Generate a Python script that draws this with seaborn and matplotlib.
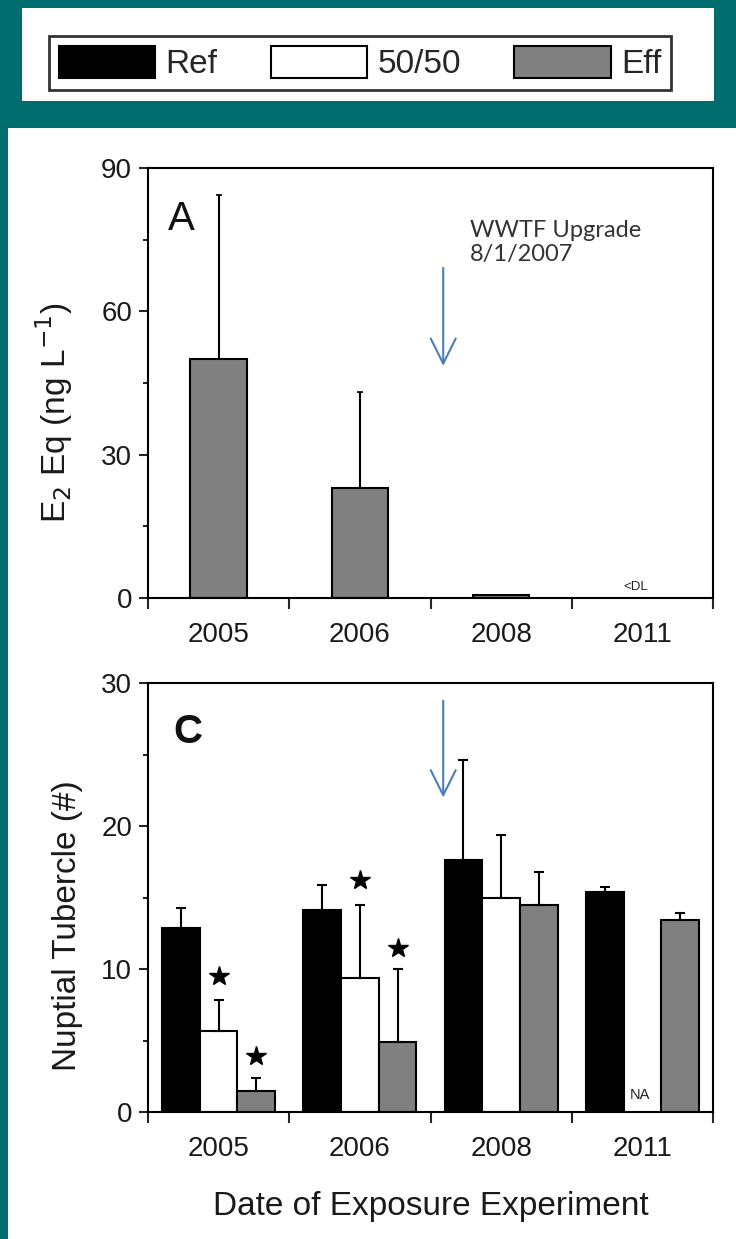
import numpy as np
import pandas as pd
import seaborn as sns
import matplotlib.pyplot as plt
from matplotlib.patches import Patch, Rectangle

sns.set_style('ticks')
plt.rcParams['font.family'] = ['Liberation Sans', 'DejaVu Sans']

# ---- data ----
years = ['2005', '2006', '2008', '2011']
groups = ['Ref', '50/50', 'Eff']
colors = ['#000000', '#ffffff', '#808080']

# panel A: E2 equivalents (effluent only), bars + upper SD
e2_eff = [50.0, 23.0, 0.6, np.nan]
e2_eff_err = [34.3, 20.1, 0.0, np.nan]

# panel C: nuptial tubercles
tub_ref = [12.85, 14.1, 17.6, 15.4]
tub_ref_err = [1.45, 1.8, 7.0, 0.35]
tub_5050 = [5.65, 9.4, 15.0, np.nan]
tub_5050_err = [2.2, 5.1, 4.4, np.nan]
tub_eff = [1.5, 4.9, 14.5, 13.4]
tub_eff_err = [0.9, 5.1, 2.3, 0.55]

# significance stars (year, group, y)
stars = [('2005', '50/50', 9.5), ('2005', 'Eff', 3.9),
         ('2006', '50/50', 16.2), ('2006', 'Eff', 11.5)]

teal = '#006e6e'
W, H = 736, 1239

df_a = pd.DataFrame({'year': years, 'e2': e2_eff, 'err': e2_eff_err})
df_c = pd.DataFrame({
    'year': years * 3,
    'group': [g for g in groups for _ in years],
    'count': tub_ref + tub_5050 + tub_eff,
    'err': tub_ref_err + tub_5050_err + tub_eff_err,
})

fig = plt.figure(figsize=(W / 100, H / 100), dpi=100)
fig.patch.set_facecolor(teal)


def px_rect(x0, y0, x1, y1):
    return Rectangle((x0 / W, 1 - y1 / H), (x1 - x0) / W, (y1 - y0) / H,
                     transform=fig.transFigure, facecolor='white',
                     edgecolor='none', zorder=-10)


fig.add_artist(px_rect(22, 8, 714, 101))
fig.add_artist(px_rect(7.5, 128, 736, 1239))

ax1 = fig.add_axes([148 / W, 1 - 598 / H, 565 / W, 430 / H])
ax2 = fig.add_axes([148 / W, 1 - 1112 / H, 565 / W, 429 / H])


def style_axis(ax, ymax, ystep):
    ax.set_facecolor('none')
    for s in ax.spines.values():
        s.set_visible(True)
        s.set_linewidth(1.5)
        s.set_color('black')
    ax.set_xlim(-0.5, 3.5)
    ax.set_ylim(0, ymax)
    ax.set_yticks(np.arange(0, ymax + 1, ystep))
    ax.set_yticks(np.arange(ystep / 2, ymax, ystep), minor=True)
    ax.set_xticks(range(len(years)))
    ax.set_xticklabels(years)
    ax.set_xticks(np.arange(-0.5, 3.6, 1), minor=True)
    ax.tick_params(axis='x', which='major', length=0, pad=17,
                   labelsize=20, labelcolor='#1a1a1a')
    ax.tick_params(axis='x', which='minor', length=8, width=1.5,
                   direction='out')
    ax.tick_params(axis='y', which='major', length=6.5, width=1.5,
                   direction='out', pad=5, labelsize=20, labelcolor='#1a1a1a')
    ax.tick_params(axis='y', which='minor', length=3.5, width=1.5,
                   direction='out')
    ax.set_xlabel('')


# ---- panel A ----
sns.barplot(data=df_a, x='year', y='e2', order=years, color=colors[2],
            saturation=1, width=0.4, edgecolor='black', linewidth=1.5,
            errorbar=None, ax=ax1)
sub = df_a.dropna(subset=['e2'])
for bar, (_, r) in zip(ax1.containers[0], sub.iterrows()):
    if r['err'] > 0:
        xc = bar.get_x() + bar.get_width() / 2
        ax1.errorbar(xc, r['e2'], yerr=[[0], [r['err']]], fmt='none',
                     ecolor='black', elinewidth=1.5, capsize=2.5,
                     capthick=1.2, zorder=1)
style_axis(ax1, 90, 30)
ax1.set_ylabel('E$_2$ Eq (ng L$^{-1}$)', fontsize=24, color='#1a1a1a')
ax1.yaxis.set_label_coords(-0.13, 0.43)
ax1.text(0.035, 0.925, 'A', transform=ax1.transAxes, fontsize=29,
         va='top', ha='left', color='#111111')
ax1.text(2.95, 2.2, '<DL', fontsize=9.5, ha='center', va='center',
         color='#222222')
ax1.annotate('', xy=(1.59, 48.0), xytext=(1.59, 69.7),
             arrowprops=dict(arrowstyle='->,head_length=1.0,head_width=0.5',
                             color='#4a7ebb', lw=1.5, mutation_scale=18))
ax1.text(1.78, 79.2, 'WWTF Upgrade\n8/1/2007', fontsize=17,
         family=['Lato', 'DejaVu Sans'], va='top', ha='left',
         color='#333333', linespacing=1.2)

# ---- panel C ----
sns.barplot(data=df_c, x='year', y='count', hue='group', order=years,
            hue_order=groups, palette=colors, saturation=1, width=0.8,
            edgecolor='black', linewidth=1.5, errorbar=None, legend=False,
            ax=ax2)
centers = {}
for cont, g in zip(ax2.containers, groups):
    sub = df_c[df_c['group'] == g].dropna(subset=['count'])
    for bar, (_, r) in zip(cont, sub.iterrows()):
        xc = bar.get_x() + bar.get_width() / 2
        centers[(r['year'], g)] = xc
        ax2.errorbar(xc, r['count'], yerr=[[0], [r['err']]], fmt='none',
                     ecolor='black', elinewidth=1.5, capsize=3.5,
                     capthick=1.5, zorder=1)
sx = [centers[(y, g)] for y, g, _ in stars]
sy = [v for _, _, v in stars]
ax2.plot(sx, sy, linestyle='none', marker='*', markersize=15,
         color='black')
style_axis(ax2, 30, 10)
ax2.set_ylabel('Nuptial Tubercle (#)', fontsize=24, color='#1a1a1a')
ax2.yaxis.set_label_coords(-0.115, 0.435)
ax2.set_xlabel('Date of Exposure Experiment', fontsize=24, color='#1a1a1a')
ax2.xaxis.set_label_coords(0.5, -0.185)
ax2.text(0.045, 0.93, 'C', transform=ax2.transAxes, fontsize=29,
         fontweight='bold', va='top', ha='left', color='#111111')
ax2.text(2.98, 1.2, 'NA', fontsize=10.5, ha='center', va='center',
         color='#222222')
ax2.annotate('', xy=(1.59, 21.8), xytext=(1.59, 28.95),
             arrowprops=dict(arrowstyle='->,head_length=1.0,head_width=0.5',
                             color='#4a7ebb', lw=1.5, mutation_scale=18))

# ---- legend ----
handles = [Patch(facecolor=c, edgecolor='black', linewidth=1.5) for c in colors]
leg = fig.legend(handles, groups, loc='center', ncol=3,
                 bbox_to_anchor=(360 / W, 1 - 63 / H), fontsize=24,
                 frameon=True, fancybox=False, handlelength=2.9,
                 handleheight=1.1, handletextpad=0.3, columnspacing=1.6,
                 borderpad=0.3)
leg.get_frame().set_edgecolor('black')
leg.get_frame().set_linewidth(2)
leg.get_frame().set_facecolor('white')

fig.savefig('out.png', dpi=100, facecolor=fig.get_facecolor())
